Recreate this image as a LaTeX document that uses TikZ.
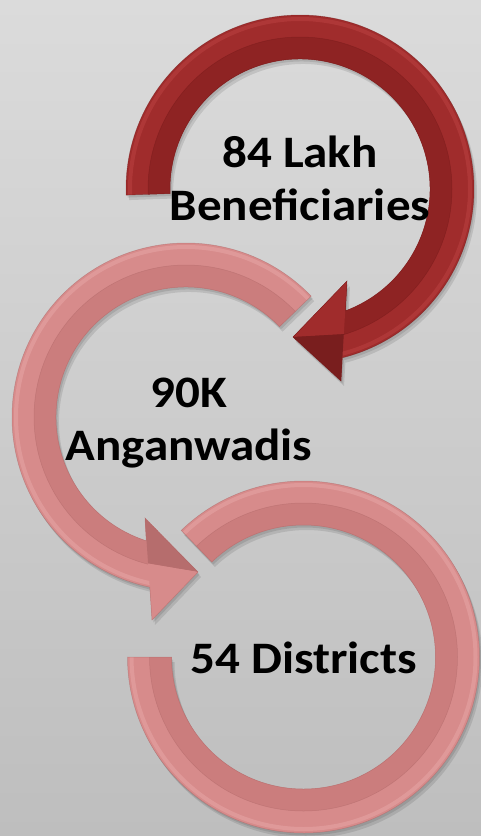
\documentclass[tikz,border=0pt]{standalone}
\usepackage{fontspec}
\setmainfont{Carlito}[FakeStretch=1.09]
\definecolor{bgtop}{HTML}{DBDBDB}
\definecolor{bgbot}{HTML}{BEBEBE}
\definecolor{redA}{HTML}{A02C2C}
\definecolor{redB}{HTML}{8E2323}
\definecolor{redHi}{HTML}{B43C3C}
\definecolor{redDk}{HTML}{6E1717}
\definecolor{pinkA}{HTML}{D78B8B}
\definecolor{pinkB}{HTML}{CB7D7D}
\definecolor{pinkHi}{HTML}{E3A0A0}
\definecolor{pinkDk}{HTML}{A86262}
\tikzset{
  lbl/.style={font=\bfseries\fontsize{45}{53}\selectfont, align=center, inner sep=0pt, text=black},
  shadowA/.style={fill=black, opacity=0.10},
}
\begin{document}
\begin{tikzpicture}[x=1pt,y=1pt]
\useasboundingbox (0,0) rectangle (481,-836);
\shade[top color=bgtop, bottom color=bgbot] (0,0) rectangle (481,-836);
\coordinate (c1) at (300,-189);
\coordinate (c2) at (186,-417);
\coordinate (c3) at (303.5,-657);
\coordinate (t1) at (293,-337);
\coordinate (w1i) at (347,-281);
\coordinate (w1o) at (341,-381);
\coordinate (m1) at (343.8,-334.1);
\coordinate (t2) at (198,-572);
\coordinate (w2i) at (145,-518);
\coordinate (w2o) at (152,-620);
\coordinate (m2) at (148.1,-563.5);
\def\ringC{([shift={(134:176)}]c3) arc[start angle=134,end angle=-180,radius=176]
  -- ([shift={(180:132)}]c3) arc[start angle=-180,end angle=134,radius=132] -- cycle}
\def\ringB{([shift={(44:174)}]c2) arc[start angle=44,end angle=258,radius=174]
  -- (w2o) -- (t2) -- (w2i) -- ([shift={(252.2:130)}]c2)
  arc[start angle=252.2,end angle=44,radius=130] -- cycle}
\def\ringA{([shift={(182:174)}]c1) arc[start angle=182,end angle=-75.9,radius=174]
  -- (w1o) -- (t1) -- (w1i) -- ([shift={(-69.5:130)}]c1)
  arc[start angle=-69.5,end angle=182,radius=130] -- cycle}
% shadows
\begin{scope}[transform canvas={shift={(3pt,-5pt)}}]
  \fill[shadowA] \ringC; \fill[shadowA] \ringB; \fill[shadowA] \ringA;
\end{scope}
\begin{scope}[transform canvas={shift={(1.5pt,-2.5pt)}}]
  \fill[shadowA] \ringC; \fill[shadowA] \ringB; \fill[shadowA] \ringA;
\end{scope}
% ring 3
\fill[pinkA] \ringC;
\begin{scope}
  \clip \ringC;
  \fill[pinkB] (c3) circle (154);
  \draw[pinkHi, line width=4pt, opacity=.7] (c3) circle (172);
  \draw[pinkDk, line width=0.5pt, opacity=.4] (c3) circle (154);
\end{scope}
\draw[pinkDk, line width=0.5pt, opacity=.5] \ringC;
% ring 2
\fill[pinkA] \ringB;
\begin{scope}
  \clip \ringB;
  \fill[pinkB] (c2) circle (152);
  \draw[pinkHi, line width=4pt, opacity=.7] (c2) circle (170);
  \draw[pinkDk, line width=0.5pt, opacity=.4] (c2) circle (152);
  \fill[pinkDk!60!pinkB] (t2) -- (w2i) -- (m2) -- cycle;
  \fill[pinkA] (t2) -- (w2o) -- (m2) -- cycle;
\end{scope}
\draw[pinkDk, line width=0.5pt, opacity=.5] \ringB;
% ring 1
\fill[redA] \ringA;
\begin{scope}
  \clip \ringA;
  \fill[redB] (c1) circle (152);
  \draw[redHi, line width=4pt, opacity=.7] (c1) circle (170);
  \draw[redDk, line width=0.5pt, opacity=.4] (c1) circle (152);
  \fill[redA] (t1) -- (w1i) -- (m1) -- cycle;
  \fill[redB!85!black] (t1) -- (w1o) -- (m1) -- cycle;
\end{scope}
\draw[redDk, line width=0.5pt, opacity=.5] \ringA;
% labels
\node[lbl, anchor=base] (lab1) at (300,-220) {84 Lakh\\Beneficiaries};
\node[lbl, anchor=base] (lab2) at (189,-460) {90K\\Anganwadis};
\node[lbl, anchor=base] (lab3) at (303.5,-673) {54 Districts};
\end{tikzpicture}
\end{document}
